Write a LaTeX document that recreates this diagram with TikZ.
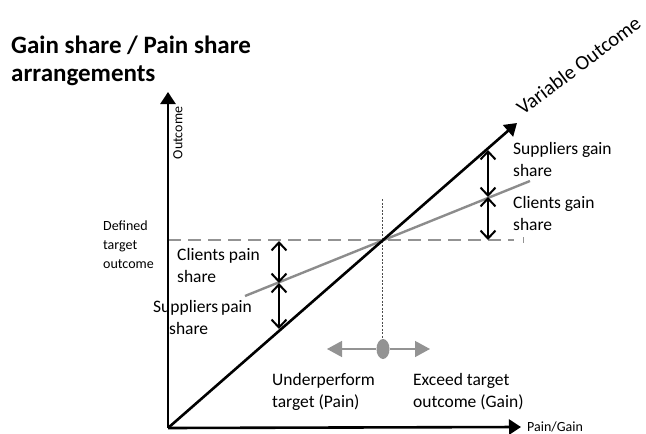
\documentclass[tikz,border=0pt]{standalone}
\usepackage{fontspec}
\setmainfont{Carlito}
\usetikzlibrary{arrows.meta,shapes.geometric}
\begin{document}
\begin{tikzpicture}[x=1pt,y=-1pt,
  axis/.style={line width=2.6pt,-{Triangle[length=12pt,width=15pt]}},
  dbl/.style={line width=2pt,{Straight Barb[length=8pt,width=15pt]}-{Straight Barb[length=8pt,width=15pt]}},
  lbl/.style={font=\fontsize{17.5}{22}\selectfont,align=left,inner sep=0pt},
  small/.style={font=\fontsize{14}{19}\selectfont,align=left,inner sep=0pt},
  gry/.style={draw=gray!85}]
\useasboundingbox (0,0) rectangle (646,434);
\coordinate (O) at (168,428);
\coordinate (ytip) at (168,92);
\coordinate (xtip) at (521,427);
\coordinate (dtip) at (517,123);
\coordinate (gA) at (245,296);
\coordinate (gB) at (530,181);
\coordinate (dL) at (168,240);
\coordinate (dR) at (514,240);
% dashed target line
\draw[gray!85,line width=2.8pt,dash pattern=on 13pt off 7pt] (dL) -- (dR);
\draw[gray!85,line width=1pt] (523,237) -- (523,243);
% gray share line
\draw[gray!90,line width=2.4pt] (gA) -- (gB);
% vertical dotted line
\draw[gray!60!black,line width=0.6pt,dash pattern=on 2pt off 1.5pt] (382,199) -- (382,345);
% axes
\draw[axis] (O) -- (ytip);
\draw[axis] (O) -- (xtip);
\draw[axis] (O) -- (dtip);
% double arrows left
\coordinate (l1) at (279,241);
\coordinate (l2) at (279,283);
\coordinate (l3) at (279,329);
\draw[dbl] (l1) -- (l2);
\draw[dbl] (l2) -- (l3);
% double arrows right
\coordinate (r1) at (488,150);
\coordinate (r2) at (488,197);
\coordinate (r3) at (488,240);
\draw[dbl] (r1) -- (r2);
\draw[dbl] (r2) -- (r3);
% bottom gray arrow
\node[ellipse,fill=gray!85,minimum width=13pt,minimum height=20pt,inner sep=0pt] (dot) at (383,349) {};
\coordinate (bl) at (327,349);
\coordinate (br) at (430,349);
\draw[gray!85,line width=1.4pt,-{Triangle[length=15pt,width=16pt]}] (dot) -- (bl);
\draw[gray!85,line width=1.4pt,-{Triangle[length=15pt,width=16pt]}] (dot) -- (br);
% texts
\node[anchor=west,font=\fontsize{25}{28}\selectfont\bfseries,align=left,inner sep=0pt] (title) at (11,61) {Gain share / Pain share\\arrangements};
\node[small,rotate=90] (outc) at (178,133) {Outcome};
\node[small,anchor=west] (def) at (103,245) {Defined\\target\\outcome};
\node[lbl,anchor=west] (cp) at (177,265) {Clients pain\\share};
\node[lbl,anchor=west] (sp) at (153,317) {Suppliers\,pain\\\hspace*{16pt}share};
\node[lbl,anchor=west] (up) at (272,392) {Underperform\\target (Pain)};
\node[lbl,anchor=west] (ex) at (413,392) {Exceed target\\outcome (Gain)};
\node[lbl,anchor=west] (sg) at (513,159) {Suppliers gain\\share};
\node[lbl,anchor=west] (cg) at (513,213) {Clients gain\\share};
\node[small,anchor=west] (pg) at (527,427) {Pain/Gain};
\node[font=\fontsize{20.5}{22}\selectfont,rotate=37,anchor=base west,inner sep=0pt] (vo) at (523,116) {Variable Outcome};
\end{tikzpicture}
\end{document}
